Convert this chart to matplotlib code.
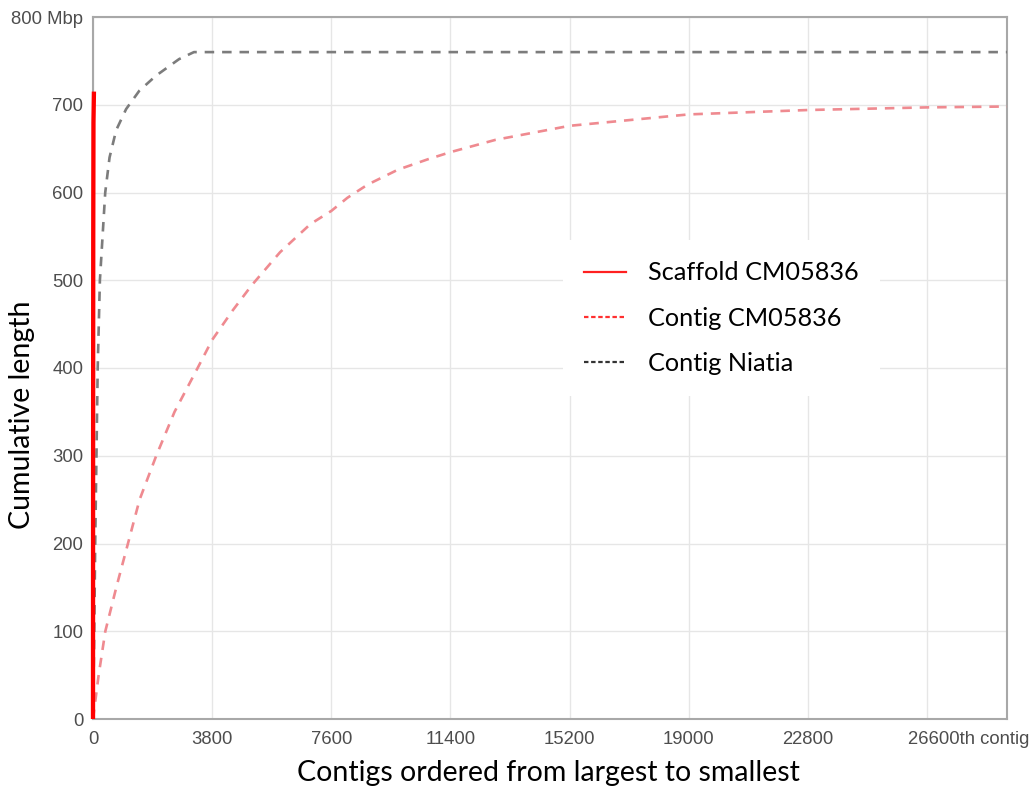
import matplotlib
matplotlib.use("Agg")
import matplotlib.pyplot as plt
import matplotlib.transforms as mtrans
from matplotlib.lines import Line2D

# ---- data (contig rank, cumulative length in Mbp) ----
scaffold_x = [0, 3, 8, 15, 30]
scaffold_y = [0, 300, 550, 680, 715]

contig_cm_x = [0, 180, 393, 743, 1115, 1486, 2017, 2600, 3337, 3800, 4463, 5055,
               5967, 6933, 7600, 8115, 8759, 9725, 10691, 11400, 12836, 15200,
               19000, 22800, 26600, 29150]
contig_cm_y = [0, 50, 100, 150, 200, 250, 300, 350, 400, 432, 466, 494,
               532, 564, 579, 594, 609, 626, 638, 646, 660, 676,
               689, 694, 697, 698]

contig_ni_x = [0, 40, 70, 110, 150, 220, 390, 528, 739, 1055, 1478, 2005, 2744, 3220, 29150]
contig_ni_y = [0, 100, 200, 300, 400, 500, 600, 640, 671, 695, 716, 733, 752, 760, 760]

x_ticks = [0, 3800, 7600, 11400, 15200, 19000, 22800, 26600]
x_tick_labels = ["0", "3800", "7600", "11400", "15200", "19000", "22800", "26600th contig"]
y_ticks = [0, 100, 200, 300, 400, 500, 600, 700, 800]
y_tick_labels = ["0", "100", "200", "300", "400", "500", "600", "700", "800 Mbp"]

legend_labels = ["Scaffold CM05836", "Contig CM05836", "Contig Niatia"]

# ---- figure ----
fig = plt.figure(figsize=(10.36, 7.95), dpi=100)
ax = fig.add_axes([93/1036, 1-719/795, 914/1036, 702/795])

ax.plot(contig_ni_x, contig_ni_y, color="#7c7c7c", lw=1.9, linestyle=(0, (3.6, 3.0)), zorder=3)
ax.plot(contig_cm_x, contig_cm_y, color="#ef8a90", lw=1.9, linestyle=(0, (3.6, 3.0)), zorder=3)
ax.plot(scaffold_x, scaffold_y, color="#ff0000", lw=3.1, solid_capstyle="butt", zorder=5, clip_on=False)

ax.set_xlim(0, 29150)
ax.set_ylim(0, 800)
ax.set_xticks(x_ticks)
ax.set_xticklabels(x_tick_labels)
ax.set_yticks(y_ticks)
ax.set_yticklabels(y_tick_labels)
ax.tick_params(axis="y", length=0, colors="#4d4d4d", pad=7)
ax.tick_params(axis="x", length=0, colors="#4d4d4d", pad=9)
for lab in ax.get_xticklabels() + ax.get_yticklabels():
    lab.set_family("Liberation Sans")
    lab.set_fontsize(13.3)
# shift last x label so "26600" sits at its tick
last = ax.get_xticklabels()[-1]
last.set_horizontalalignment("left")
last.set_transform(last.get_transform() + mtrans.ScaledTranslation(-19/100, 0, fig.dpi_scale_trans))

ax.grid(True, color="#e6e6e6", lw=1)
ax.set_axisbelow(True)
for s in ax.spines.values():
    s.set_color("#a8a8a8")
    s.set_linewidth(1.5)

fig.text(548/1036, 1-773/795, "Contigs ordered from largest to smallest",
         ha="center", va="center", fontsize=20.5, family="Lato")
fig.text(22/1036, 1-415/795, "Cumulative length", rotation=90,
         ha="center", va="center", fontsize=20.5, family="Lato")

handles = [
    Line2D([], [], color="#ff2020", lw=1.6),
    Line2D([], [], color="#ff3030", lw=1.6, linestyle=(0, (2, 1.2))),
    Line2D([], [], color="#333333", lw=1.6, linestyle=(0, (2, 1.2))),
]
leg = fig.legend(handles, legend_labels, loc="upper left",
                 bbox_to_anchor=(563/1036, 1-240/795), frameon=True,
                 prop={"family": "Lato", "size": 18.2},
                 handlelength=1.65, handletextpad=0.85, labelspacing=0.88,
                 borderpad=0.85, borderaxespad=0)
leg.get_frame().set_facecolor("white")
leg.get_frame().set_edgecolor("none")
leg.get_frame().set_alpha(1.0)

fig.savefig("out.png", dpi=100)
